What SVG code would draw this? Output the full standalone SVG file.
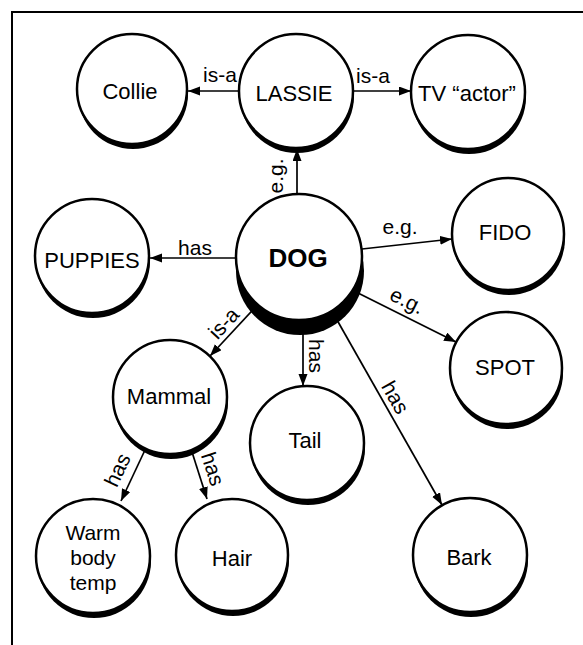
<svg xmlns="http://www.w3.org/2000/svg" width="583" height="645" viewBox="0 0 583 645">
<defs>
<marker id="arr" markerUnits="userSpaceOnUse" markerWidth="13" markerHeight="10" refX="12" refY="4.5" orient="auto">
<path d="M0,0 L12,4.5 L0,9 z" fill="#000"/>
</marker>
</defs>
<style>
.sh{fill:#000}
.c{fill:#fff;stroke:#000;stroke-width:2.5}
.t{font-family:"Liberation Sans",Arial,sans-serif;font-size:22px;fill:#000;text-anchor:middle}
.s{font-size:21px}
.b{font-family:"Liberation Sans",Arial,sans-serif;font-size:26px;font-weight:bold;fill:#000;text-anchor:middle}
.l{font-family:"Liberation Sans",Arial,sans-serif;font-size:21px;fill:#000;text-anchor:middle}
.e{stroke:#000;stroke-width:1.7;fill:none;marker-end:url(#arr)}
.f{stroke:#000;stroke-width:2;fill:none}
</style>
<rect width="583" height="645" fill="#fff"/>
<g id="frame">
<line class="f" x1="11" y1="12" x2="583" y2="12"/>
<line class="f" x1="12" y1="12" x2="12" y2="645"/>
</g>
<g id="connectors">
<line class="e" x1="239" y1="91" x2="188" y2="91"/>
<line class="e" x1="353" y1="91" x2="411" y2="91"/>
<line class="e" x1="297" y1="194" x2="297" y2="149"/>
<line class="e" x1="236" y1="258" x2="150" y2="258"/>
<line class="e" x1="362" y1="249" x2="452" y2="239"/>
<line class="e" x1="358" y1="293" x2="456" y2="342"/>
<line class="e" x1="262" y1="300" x2="210" y2="356"/>
<line class="e" x1="303" y1="330" x2="303" y2="386"/>
<line class="e" x1="337" y1="320" x2="442" y2="505"/>
<line class="e" x1="145" y1="450" x2="121" y2="501"/>
<line class="e" x1="192" y1="452" x2="207" y2="499"/>
<text class="l" x="220" y="82">is-a</text>
<text class="l" x="373" y="83">is-a</text>
<text class="l" transform="translate(283,176) rotate(-90)">e.g.</text>
<text class="l" x="195" y="255">has</text>
<text class="l" x="400" y="234">e.g.</text>
<text class="l" transform="translate(404,307) rotate(26.6)">e.g.</text>
<text class="l" transform="translate(229,328) rotate(-47.1)">is-a</text>
<text class="l" transform="translate(309,356) rotate(90)">has</text>
<text class="l" transform="translate(389,401) rotate(60.5)">has</text>
<text class="l" transform="translate(124,473) rotate(-64.8)">has</text>
<text class="l" transform="translate(206,471) rotate(72.3)">has</text>
</g>
<g id="collie"><circle class="sh" cx="133" cy="94" r="55"/><circle class="c" cx="132" cy="89" r="55"/><text class="t" x="130" y="99">Collie</text></g>
<g id="lassie"><circle class="sh" cx="297" cy="96" r="57"/><circle class="c" cx="296" cy="91" r="57"/><text class="t" x="294" y="101">LASSIE</text></g>
<g id="tv-actor"><circle class="sh" cx="469" cy="97" r="57"/><circle class="c" cx="468" cy="92" r="57"/><text class="t" x="467" y="101">TV “actor”</text></g>
<g id="puppies"><circle class="sh" cx="93" cy="261" r="57"/><circle class="c" cx="92" cy="256" r="57"/><text class="t" x="92" y="268">PUPPIES</text></g>
<g id="dog"><circle class="sh" cx="300" cy="271" r="64"/><circle class="c" cx="299" cy="257" r="63"/><text class="b" x="298" y="267">DOG</text></g>
<g id="fido"><circle class="sh" cx="509" cy="239" r="56"/><circle class="c" cx="508" cy="234" r="56"/><text class="t" x="505" y="240">FIDO</text></g>
<g id="spot"><circle class="sh" cx="507" cy="373" r="56"/><circle class="c" cx="506" cy="368" r="56"/><text class="t" x="505" y="375">SPOT</text></g>
<g id="mammal"><circle class="sh" cx="171" cy="402" r="57"/><circle class="c" cx="170" cy="397" r="57"/><text class="t" x="169" y="404">Mammal</text></g>
<g id="tail"><circle class="sh" cx="308" cy="448" r="57"/><circle class="c" cx="307" cy="443" r="57"/><text class="t" x="305" y="448">Tail</text></g>
<g id="warm"><circle class="sh" cx="94" cy="561" r="57"/><circle class="c" cx="93" cy="556" r="57"/><text class="t s" x="93" y="540">Warm</text><text class="t s" x="93" y="565">body</text><text class="t s" x="93" y="590">temp</text></g>
<g id="hair"><circle class="sh" cx="233" cy="560" r="56"/><circle class="c" cx="232" cy="555" r="56"/><text class="t" x="232" y="566">Hair</text></g>
<g id="bark"><circle class="sh" cx="471" cy="560" r="57"/><circle class="c" cx="470" cy="555" r="57"/><text class="t" x="469" y="565">Bark</text></g>
</svg>
